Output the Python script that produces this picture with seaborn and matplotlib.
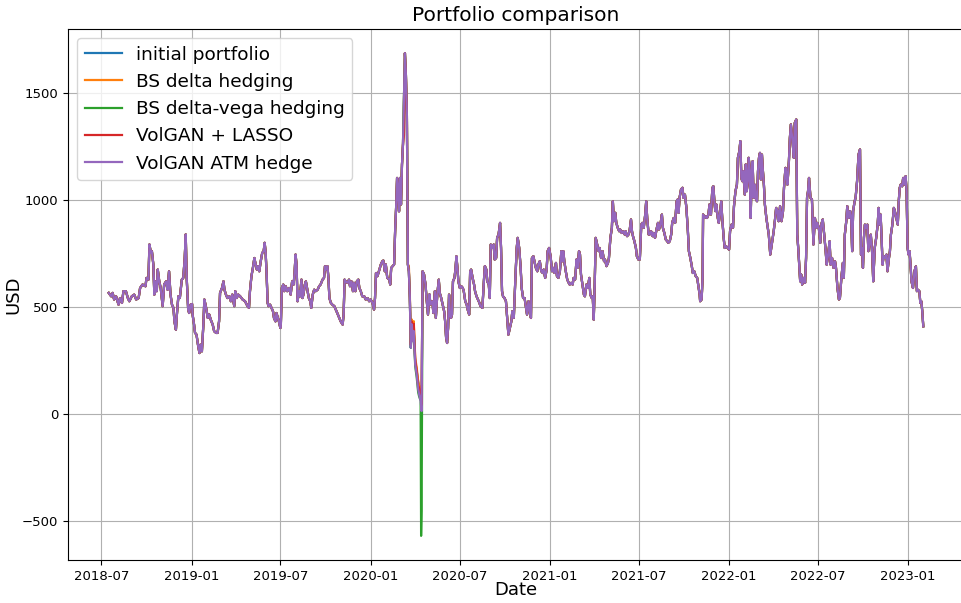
import matplotlib
matplotlib.use("Agg")
import matplotlib.pyplot as plt
import matplotlib.dates as mdates
import seaborn as sns
import pandas as pd
import numpy as np

# дни от начальной даты и значение портфеля (USD)
start_date = "2018-07-16"

day_offsets = [
    0, 5, 8, 11, 15, 20, 23, 27, 30, 35, 39, 42,
    47, 52, 56, 61, 64, 69, 75, 77, 81, 83, 86, 88,
    91, 93, 95, 98, 100, 103, 106, 110, 113, 117, 120, 123,
    126, 129, 132, 134, 137, 139, 142, 145, 149, 152, 155, 157,
    159, 162, 164, 167, 170, 171, 174, 176, 179, 182, 185, 187,
    190, 193, 195, 198, 202, 205, 208, 212, 215, 219, 222, 225,
    227, 231, 234, 236, 239, 242, 246, 249, 252, 256, 258, 261,
    264, 268, 273, 278, 283, 286, 288, 291, 294, 297, 299, 302,
    305, 307, 310, 313, 316, 318, 320, 322, 324, 326, 329, 332,
    335, 337, 340, 342, 344, 347, 350, 351, 353, 356, 358, 361,
    364, 368, 371, 374, 377, 379, 381, 383, 385, 388, 390, 393,
    395, 397, 400, 402, 405, 408, 411, 413, 416, 419, 422, 426,
    429, 432, 436, 439, 441, 443, 446, 448, 450, 453, 456, 460,
    463, 466, 470, 473, 477, 479, 481, 483, 487, 490, 492, 495,
    498, 500, 503, 506, 509, 511, 514, 517, 521, 524, 528, 531,
    534, 538, 541, 543, 545, 548, 551, 555, 558, 560, 563, 565,
    568, 572, 574, 576, 579, 582, 584, 586, 588, 590, 592, 594,
    596, 598, 600, 602, 604, 606, 608, 610, 612, 614, 616, 618,
    620, 622, 625, 628, 631, 633, 636, 637, 638, 640, 643, 646,
    648, 651, 654, 656, 660, 662, 665, 667, 670, 673, 675, 678,
    681, 684, 686, 688, 690, 692, 694, 696, 698, 700, 702, 705,
    707, 709, 711, 713, 716, 719, 722, 724, 727, 730, 732, 735,
    737, 739, 742, 745, 747, 750, 753, 756, 758, 762, 765, 767,
    770, 772, 775, 777, 779, 782, 785, 787, 790, 792, 795, 798,
    800, 802, 804, 807, 810, 813, 815, 818, 821, 823, 826, 829,
    832, 834, 837, 840, 842, 845, 848, 851, 853, 856, 859, 861,
    863, 866, 868, 871, 874, 876, 879, 882, 885, 887, 890, 893,
    895, 898, 901, 904, 906, 909, 912, 914, 917, 920, 923, 925,
    927, 929, 932, 935, 938, 940, 943, 946, 948, 951, 954, 956,
    959, 961, 963, 966, 969, 971, 974, 977, 980, 982, 985, 987,
    989, 991, 993, 996, 999, 1001, 1004, 1007, 1010, 1012, 1015, 1018,
    1020, 1023, 1026, 1028, 1030, 1033, 1035, 1038, 1041, 1043, 1046, 1049,
    1052, 1054, 1057, 1060, 1062, 1065, 1067, 1069, 1072, 1075, 1077, 1080,
    1083, 1086, 1088, 1091, 1094, 1096, 1098, 1101, 1103, 1106, 1109, 1111,
    1114, 1117, 1120, 1122, 1125, 1128, 1130, 1133, 1136, 1139, 1141, 1144,
    1147, 1149, 1152, 1155, 1158, 1160, 1162, 1164, 1167, 1170, 1172, 1175,
    1178, 1181, 1183, 1186, 1189, 1191, 1194, 1197, 1200, 1202, 1205, 1206,
    1209, 1211, 1212, 1215, 1218, 1220, 1223, 1225, 1228, 1231, 1233, 1235,
    1237, 1239, 1242, 1244, 1247, 1249, 1251, 1254, 1256, 1259, 1262, 1265,
    1267, 1270, 1273, 1275, 1278, 1281, 1283, 1286, 1288, 1290, 1292, 1294,
    1297, 1299, 1301, 1303, 1305, 1307, 1309, 1311, 1313, 1315, 1317, 1319,
    1322, 1324, 1326, 1328, 1330, 1332, 1334, 1336, 1338, 1341, 1343, 1346,
    1349, 1351, 1354, 1356, 1359, 1361, 1364, 1366, 1369, 1372, 1375, 1377,
    1380, 1382, 1384, 1387, 1389, 1391, 1393, 1395, 1397, 1399, 1402, 1404,
    1406, 1408, 1410, 1412, 1414, 1417, 1420, 1422, 1424, 1426, 1428, 1431,
    1434, 1437, 1440, 1443, 1445, 1448, 1451, 1453, 1456, 1459, 1462, 1464,
    1467, 1470, 1472, 1475, 1478, 1481, 1483, 1486, 1489, 1491, 1494, 1497,
    1499, 1501, 1504, 1506, 1509, 1512, 1514, 1516, 1518, 1521, 1523, 1526,
    1529, 1532, 1534, 1536, 1538, 1540, 1542, 1544, 1547, 1549, 1551, 1554,
    1557, 1559, 1562, 1565, 1568, 1570, 1572, 1574, 1576, 1578, 1580, 1583,
    1586, 1588, 1591, 1593, 1595, 1598, 1601, 1603, 1606, 1609, 1611, 1613,
    1615, 1618, 1620, 1623, 1625, 1627, 1629, 1631, 1633, 1635, 1637, 1640,
    1643, 1646, 1648, 1650, 1653, 1655, 1657, 1659, 1661,
]

base_usd = [
    564, 548, 564, 533, 548, 509, 540, 517, 572, 572, 540, 525,
    548, 556, 533, 540, 587, 603, 595, 634, 626, 790, 751, 759,
    696, 556, 618, 572, 673, 618, 587, 502, 603, 618, 579, 665,
    556, 509, 494, 431, 392, 463, 548, 540, 626, 634, 727, 837,
    634, 486, 470, 509, 512, 463, 416, 377, 369, 322, 283, 322,
    291, 416, 533, 502, 447, 463, 439, 416, 385, 377, 377, 431,
    564, 587, 618, 579, 556, 540, 548, 525, 556, 502, 572, 540,
    556, 548, 533, 525, 502, 494, 572, 642, 681, 727, 704, 673,
    689, 665, 712, 751, 759, 798, 751, 650, 517, 502, 509, 494,
    478, 447, 431, 470, 455, 431, 400, 416, 587, 603, 572, 595,
    572, 587, 556, 618, 603, 657, 743, 696, 525, 572, 548, 626,
    540, 556, 603, 618, 579, 540, 525, 494, 556, 579, 572, 579,
    595, 603, 626, 634, 689, 673, 689, 634, 540, 517, 509, 502,
    486, 470, 447, 431, 416, 463, 626, 618, 611, 626, 595, 618,
    572, 611, 572, 618, 626, 587, 572, 548, 548, 533, 540, 525,
    533, 517, 486, 540, 657, 642, 665, 697, 712, 715, 665, 697,
    634, 627, 603, 681, 689, 697, 852, 961, 1101, 1054, 945, 1101,
    977, 1163, 1256, 1474, 1684, 1583, 1396, 697, 665, 541, 308, 417,
    339, 386, 230, 183, 114, 90, 59, 35, 12, 665, 650, 603,
    541, 463, 557, 510, 525, 470, 572, 447, 556, 626, 564, 540,
    509, 478, 431, 354, 330, 400, 556, 463, 447, 463, 618, 634,
    673, 735, 681, 618, 587, 595, 587, 572, 525, 509, 486, 463,
    665, 673, 634, 603, 572, 548, 533, 517, 502, 494, 618, 689,
    673, 618, 603, 540, 790, 774, 790, 720, 727, 821, 837, 891,
    774, 572, 548, 540, 525, 431, 369, 400, 431, 478, 447, 618,
    774, 821, 774, 681, 587, 540, 540, 494, 463, 525, 470, 447,
    727, 735, 712, 681, 665, 696, 712, 665, 657, 673, 634, 673,
    759, 774, 735, 665, 681, 657, 704, 642, 634, 665, 759, 712,
    759, 712, 665, 626, 611, 603, 611, 603, 634, 626, 720, 681,
    759, 743, 650, 603, 556, 548, 603, 587, 634, 556, 540, 548,
    439, 603, 821, 790, 759, 774, 727, 759, 712, 720, 689, 704,
    727, 821, 868, 992, 899, 938, 891, 868, 852, 860, 844, 852,
    837, 852, 829, 837, 852, 907, 852, 829, 805, 774, 735, 720,
    720, 883, 891, 868, 930, 992, 914, 837, 837, 852, 829, 844,
    821, 860, 891, 860, 883, 930, 868, 844, 813, 805, 798, 805,
    837, 891, 914, 891, 992, 1000, 938, 1008, 1047, 1055, 1008, 1023,
    961, 852, 759, 727, 689, 657, 665, 642, 634, 603, 556, 525,
    533, 634, 930, 914, 922, 914, 930, 977, 930, 1055, 1062, 992,
    946, 977, 914, 891, 946, 992, 914, 821, 774, 782, 774, 766,
    852, 883, 868, 969, 1039, 1070, 1195, 1226, 1273, 1101, 1086, 1133,
    1023, 1164, 1039, 1086, 1195, 1148, 914, 1117, 1179, 1008, 1070, 1008,
    992, 1133, 1195, 1218, 1094, 1210, 1133, 1070, 977, 914, 883, 836,
    743, 774, 821, 852, 914, 961, 946, 899, 969, 899, 946, 1055,
    1148, 1117, 1070, 1179, 1288, 1351, 1304, 1257, 1195, 1358, 1374, 836,
    774, 696, 618, 650, 603, 634, 611, 727, 1008, 1039, 1101, 1008,
    1000, 790, 914, 868, 891, 868, 798, 883, 907, 836, 759, 696,
    743, 805, 696, 727, 681, 712, 681, 587, 533, 540, 634, 704,
    634, 836, 899, 969, 914, 946, 914, 759, 946, 992, 1008, 1086,
    1210, 1234, 743, 774, 681, 821, 883, 868, 883, 759, 790, 836,
    743, 618, 774, 821, 883, 961, 883, 930, 821, 696, 735, 727,
    743, 665, 727, 759, 836, 883, 961, 946, 914, 883, 992, 1055,
    1070, 1062, 1101, 1070, 1109, 1039, 774, 743, 759, 696, 618, 587,
    665, 688, 572, 579, 572, 517, 525, 478, 408,
]

# в период обвала (март-апрель 2020) стратегии расходятся
crash_days = [602, 604, 606, 608, 610, 612, 614, 616, 618, 620, 622, 625,
              628, 631, 633, 636, 637, 638]
crash_initial = [1474, 1684, 1583, 1396, 697, 665, 541, 308, 417, 339, 386, 240,
                 200, 150, 130, 100, 80, 40]
crash_bs_delta = [1474, 1684, 1583, 1396, 697, 689, 560, 330, 440, 360, 432, 260,
                  215, 150, 130, 100, 80, 60]
crash_bs_vega = [1474, 1684, 1583, 1396, 697, 665, 541, 308, 417, 339, 386, 220,
                 170, 100, 80, 60, -571, -454]
crash_lasso = [1300, 1684, 1583, 1396, 697, 665, 541, 320, 430, 350, 420, 250,
               200, 130, 120, 90, 70, 40]

названия = ["initial portfolio", "BS delta hedging", "BS delta-vega hedging",
            "VolGAN + LASSO", "VolGAN ATM hedge"]
отклонения = [crash_initial, crash_bs_delta, crash_bs_vega, crash_lasso, None]
цвета = sns.color_palette("tab10")[:5]

assert len(day_offsets) == len(base_usd)

даты = pd.to_datetime(start_date) + pd.to_timedelta(day_offsets, unit="D")
база = pd.Series(base_usd, index=day_offsets, dtype=float)

fig = plt.figure(figsize=(9.61, 6.03), dpi=100)
ax = fig.add_axes([68 / 961, 43 / 603, 896 / 961, 531 / 603])

for имя, crash, цвет in zip(названия, отклонения, цвета):
    ряд = база.copy()
    if crash is not None:
        ряд.loc[crash_days] = crash
    sns.lineplot(x=даты, y=ряд.values, color=цвет, label=имя,
                 linewidth=1.6, ax=ax)

ax.xaxis.set_major_locator(mdates.MonthLocator(bymonth=[1, 7]))
ax.xaxis.set_major_formatter(mdates.DateFormatter("%Y-%m"))
ax.tick_params(labelsize=9.5)

ax.set_title("Portfolio comparison", fontsize=14.5)
ax.set_xlabel("Date", fontsize=13, labelpad=-1)
ax.set_ylabel("USD", fontsize=13, labelpad=0)
ax.grid(True)
ax.legend(loc="upper left", fontsize=13.3)

plt.savefig("out.png", dpi=100)
